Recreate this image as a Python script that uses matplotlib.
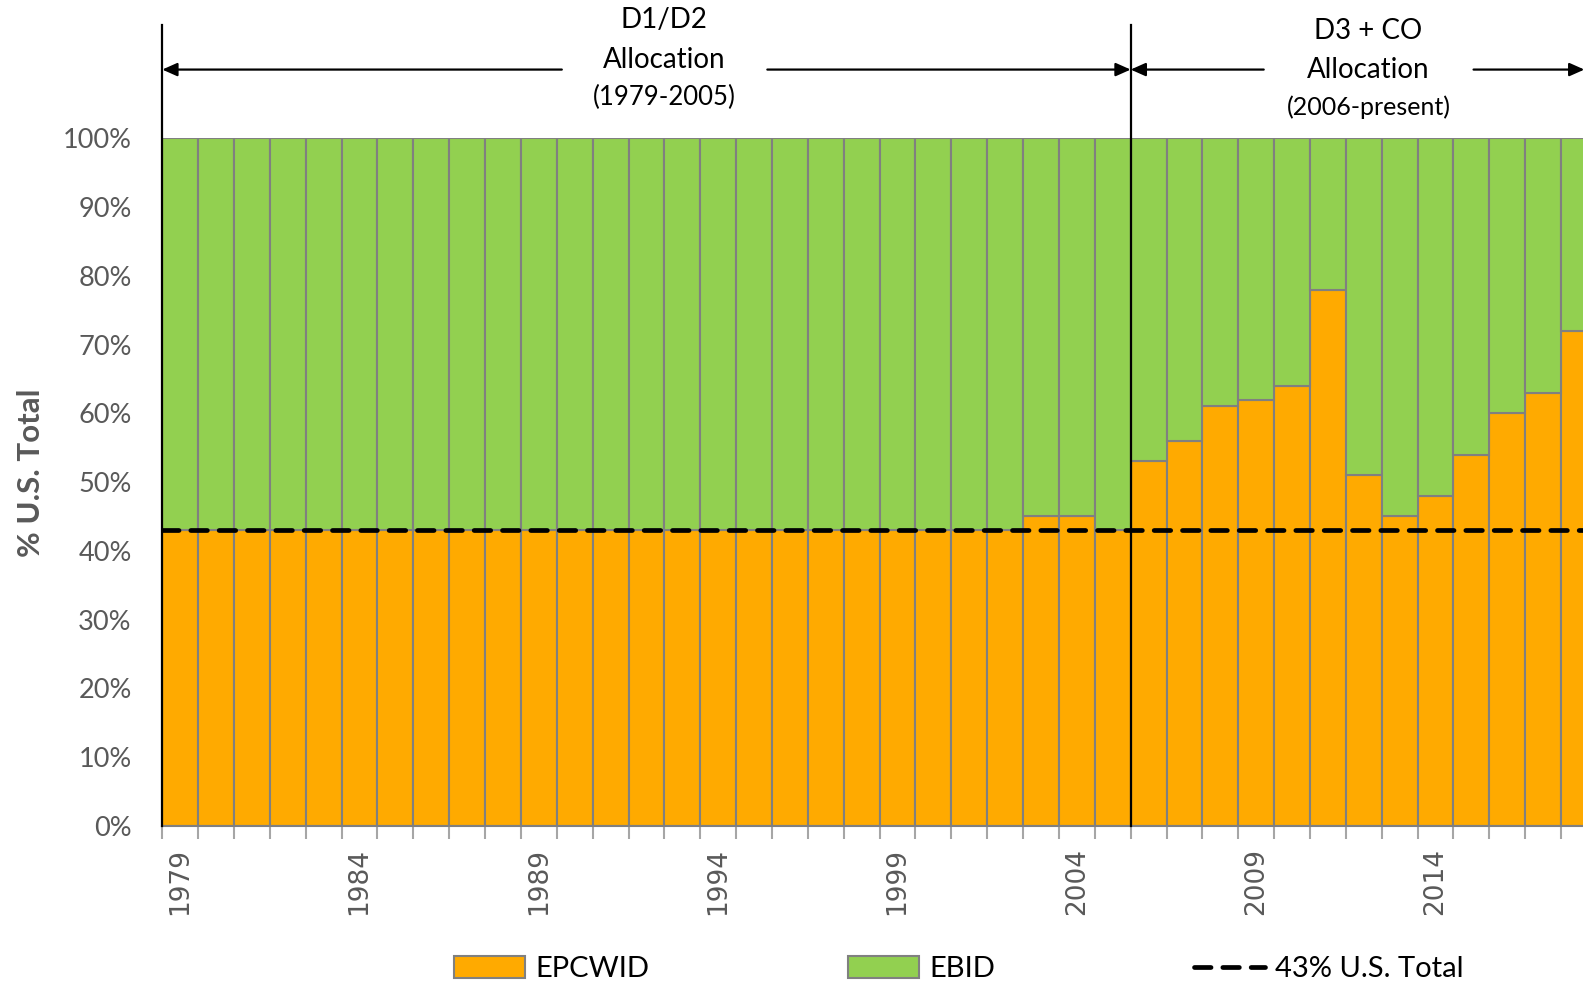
import matplotlib.pyplot as plt
from matplotlib.ticker import FixedLocator, PercentFormatter

# Annual split of the U.S. delivery between the two districts
years = list(range(1979, 2019))
epcwid_pct = [43] * 24 + [45, 45, 43,
              53, 56, 61, 62, 64, 78, 51, 45, 48, 54, 60, 63, 72]
ebid_pct = [100 - v for v in epcwid_pct]
us_total_pct = 43

orange = '#FFAA00'
green = '#92D050'
edge = '#808080'
label_grey = '#595959'

fig = plt.figure(figsize=(15.83, 9.81), dpi=100)
ax = fig.add_axes([0.1025, 0.1582, 0.9063, 0.7008])

x = list(range(len(years)))
epc = [v / 100 for v in epcwid_pct]
ebid = [v / 100 for v in ebid_pct]

b1 = ax.bar(x, epc, width=1.0, color=orange, edgecolor=edge, linewidth=1.5,
            label='EPCWID')
b2 = ax.bar(x, ebid, bottom=epc, width=1.0, color=green, edgecolor=edge,
            linewidth=1.5, label='EBID')
line = ax.axhline(us_total_pct / 100, color='black', lw=3.4,
                  linestyle=(0, (3.5, 2.5)), dash_capstyle='round',
                  label='43% U.S. Total', zorder=4)

ax.set_xlim(-0.5, len(years) - 0.5)
ax.set_ylim(0, 1)

# axes cosmetics
for s in ['top', 'right', 'left']:
    ax.spines[s].set_visible(False)
ax.spines['bottom'].set_color(edge)
ax.spines['bottom'].set_linewidth(1.5)

ax.set_yticks([i / 10 for i in range(11)])
ax.yaxis.set_major_formatter(PercentFormatter(1.0, decimals=0))
ax.tick_params(axis='y', length=0, pad=22, labelsize=19.5, labelcolor=label_grey)
for t in ax.get_yticklabels():
    t.set_fontfamily('Lato')

ax.set_xticks(x[::5])
ax.set_xticklabels([str(y) for y in years[::5]], rotation=90,
                   fontfamily='DejaVu Sans', fontsize=19, color=label_grey)
ax.xaxis.set_minor_locator(FixedLocator([i - 0.5 for i in range(len(years) + 1)]))
ax.tick_params(axis='x', which='major', length=0, pad=16)
ax.tick_params(axis='x', which='minor', length=9, width=1.5, color='#A6A6A6')

ax.set_ylabel('% U.S. Total', fontfamily='Lato', fontweight='bold',
              fontsize=22.5, color=label_grey)
ax.yaxis.set_label_coords(-0.082, 0.514)

# left axis line and allocation boundary
split = 26.5
ax.plot([-0.5, -0.5], [0, 1.1645], color='black', lw=1.6, clip_on=False, zorder=5)
ax.plot([split, split], [0, 1.1645], color='black', lw=1.6, clip_on=False, zorder=5)

arrow_kw = dict(arrowstyle='-|>,head_length=0.9,head_width=0.4', color='black',
                lw=1.6, shrinkA=0, shrinkB=0)
y_arrow = 1.10
for start, end in [(10.64, -0.5), (16.37, split), (30.21, split), (36.06, 39.15)]:
    ax.annotate('', xy=(end, y_arrow), xytext=(start, y_arrow),
                arrowprops=arrow_kw, annotation_clip=False)

ax.text(13.5, 1.1717, 'D1/D2', ha='center', va='center', fontsize=20,
        fontfamily='Lato', clip_on=False)
ax.text(13.5, 1.1145, 'Allocation', ha='center', va='center', fontsize=20,
        fontfamily='Lato', clip_on=False)
ax.text(13.5, 1.0587, '(1979-2005)', ha='center', va='center', fontsize=18.5,
        fontfamily='Lato', clip_on=False)
ax.text(33.13, 1.1557, 'D3 + CO', ha='center', va='center', fontsize=20,
        fontfamily='Lato', clip_on=False)
ax.text(33.13, 1.0998, 'Allocation', ha='center', va='center', fontsize=20,
        fontfamily='Lato', clip_on=False)
ax.text(33.13, 1.0455, '(2006-present)', ha='center', va='center', fontsize=18,
        fontfamily='Lato', clip_on=False)

fig.legend(handles=[b1, b2, line], loc='center', bbox_to_anchor=(0.6056, 0.012),
           ncol=3, frameon=False, prop={'family': 'Lato', 'size': 21},
           handlelength=2.45, handleheight=0.75, handletextpad=0.35,
           columnspacing=6.8)

fig.savefig('out.png', dpi=100)
